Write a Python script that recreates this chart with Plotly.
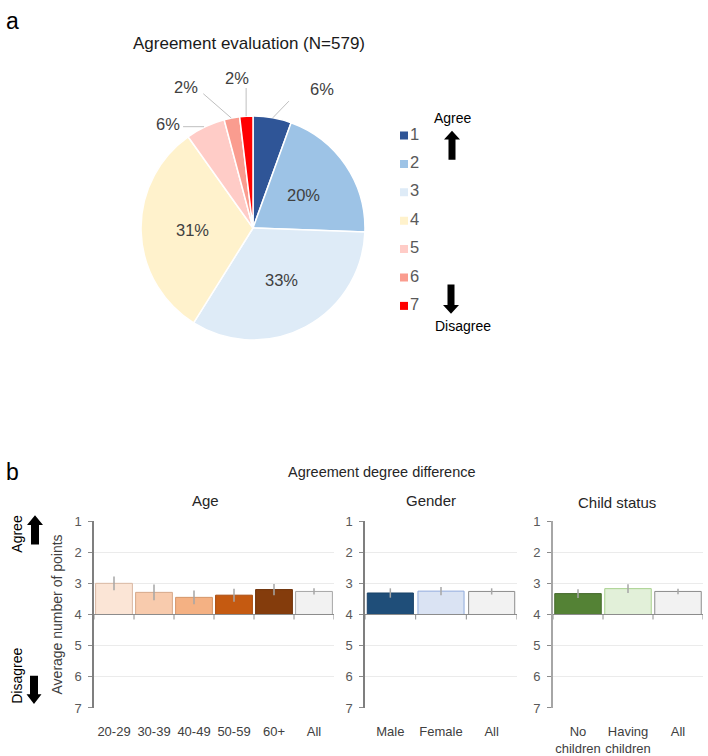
import math
import plotly.graph_objects as go

# ------------------------------------------------------------------ data
pie_labels = ['1', '2', '3', '4', '5', '6', '7']
pie_counts = [32, 116, 193, 181, 33, 13, 11]          # N = 579
pie_title = 'Agreement evaluation (N=579)'

age_groups = ['20-29', '30-39', '40-49', '50-59', '60+', 'All']
age_mean = [3.00, 3.29, 3.45, 3.38, 3.20, 3.26]
age_err = [0.22, 0.25, 0.22, 0.21, 0.18, 0.10]

gender_groups = ['Male', 'Female', 'All']
gender_mean = [3.31, 3.25, 3.26]
gender_err = [0.15, 0.13, 0.10]

child_groups = ['No<br>children', 'Having<br>children', 'All']
child_mean = [3.33, 3.17, 3.26]
child_err = [0.14, 0.14, 0.09]

y_ticks = [1, 2, 3, 4, 5, 6, 7]
bar_base = 4

# ------------------------------------------------------------------ styles
W, H = 708, 756
FONT = 'Liberation Sans, Arial, sans-serif'

pie_colors = ['#2F5597', '#9DC3E6', '#DEEBF7', '#FFF2CC', '#FFCCC7', '#FA9C8F', '#FF0000']
age_colors = ['#FBE5D6', '#F8CBAD', '#F4B183', '#C55A11', '#843C0C', '#F2F2F2']
age_lines = ['#D9B8A3', '#D6A98B', '#D4966A', '#A84B0E', '#6E320A', '#A6A6A6']
gender_colors = ['#1F4E79', '#DAE3F3', '#F2F2F2']
gender_lines = ['#1A4268', '#8FAADC', '#8C8C8C']
child_colors = ['#548235', '#E2F0D9', '#F2F2F2']
child_lines = ['#44692B', '#A9D18E', '#8C8C8C']


def px(x):
    return x / W


def py(y):
    return 1 - y / H


fig = go.Figure()

# ------------------------------------------------------------------ pie
PCX, PCY, PR = 253, 227, 115
fig.add_trace(go.Pie(
    labels=pie_labels, values=pie_counts, sort=False, direction='clockwise',
    rotation=0, textinfo='none', hoverinfo='skip', showlegend=False,
    marker=dict(colors=pie_colors, line=dict(color='white', width=1.5)),
    domain=dict(x=[px(PCX - PR), px(PCX + PR)], y=[py(PCY + PR), py(PCY - PR)]),
))

annotations = []
shapes = []


def ann(text, x, y, size, color='#1A1A1A', angle=0, xanchor='center'):
    annotations.append(dict(text=text, x=px(x), y=py(y), xref='paper', yref='paper',
                            showarrow=False, textangle=angle, xanchor=xanchor,
                            yanchor='middle', font=dict(size=size, color=color, family=FONT)))


# pie labels computed from data
outside = {0: ((49, -29), (16, -17)), 4: ((-36, -3), (-21, 0)),
           5: ((-45, -32), (-28, -25)), 6: ((-9, -39), (0, -29))}
total = sum(pie_counts)
cum = 0
for i, v in enumerate(pie_counts):
    a0 = cum / total * 360
    cum += v
    a1 = cum / total * 360
    mid = math.radians((a0 + a1) / 2)
    pct = f'{round(v / total * 100)}%'
    if i in outside:
        ex, ey = PCX + PR * math.sin(mid), PCY - PR * math.cos(mid)
        (lx, ly), (kx, ky) = outside[i]
        shapes.append(dict(type='line', xref='paper', yref='paper',
                           x0=px(ex), y0=py(ey), x1=px(ex + kx), y1=py(ey + ky),
                           line=dict(color='#BFBFBF', width=1)))
        ann(pct, ex + lx, ey + ly, 16.5, '#404040')
    else:
        r = 0.53 * PR
        ann(pct, PCX + r * math.sin(mid), PCY - r * math.cos(mid), 16.5, '#404040')

# legend built as a small scatter on hidden axes
fig.add_trace(go.Scatter(
    x=[0] * len(pie_labels), y=pie_labels, mode='markers+text', text=pie_labels,
    textposition='middle right', hoverinfo='skip', showlegend=False,
    marker=dict(symbol='square', size=8, color=pie_colors),
    textfont=dict(size=16.5, color='#595959', family=FONT),
    xaxis='x4', yaxis='y4'))

# ------------------------------------------------------------------ bars
panels = [
    ('x', 'y', age_groups, age_mean, age_err, age_colors, age_lines, 0.92),
    ('x2', 'y2', gender_groups, gender_mean, gender_err, gender_colors, gender_lines, 0.91),
    ('x3', 'y3', child_groups, child_mean, child_err, child_colors, child_lines, 0.93),
]
for xa, ya, cats, means, errs, cols, lines, wdt in panels:
    fig.add_trace(go.Bar(
        x=cats, y=[m - bar_base for m in means], base=bar_base, width=wdt,
        marker=dict(color=cols, line=dict(color=lines, width=1)),
        error_y=dict(type='data', array=errs, color='#A6A6A6', thickness=1.5, width=0),
        hoverinfo='skip', showlegend=False, xaxis=xa, yaxis=ya))
    # category axis line drawn through the bar base, with boundary ticks
    shapes.append(dict(type='line', xref=f'{xa} domain', yref=ya, x0=0, x1=1,
                       y0=bar_base, y1=bar_base, line=dict(color='#8C8C8C', width=1.2)))
    for b in range(len(cats) + 1):
        shapes.append(dict(type='line', xref=xa, yref=ya, x0=b - 0.5, x1=b - 0.5,
                           ysizemode='pixel', yanchor=bar_base, y0=0, y1=-5,
                           line=dict(color='#8C8C8C', width=1)))

ydom = [py(720), py(528)]


def yax(anchor, linecolor='#7F7F7F', lw=1.5):
    return dict(domain=ydom, anchor=anchor, range=[7, 1], tickvals=y_ticks,
                showgrid=True, gridcolor='#EBEBEB', gridwidth=1, zeroline=False,
                showline=True, linecolor=linecolor, linewidth=lw, ticks='outside',
                ticklen=4, tickcolor='#8C8C8C', ticklabelstandoff=4,
                tickfont=dict(size=13, color='#595959', family=FONT), fixedrange=True)


def xax(anchor, x0, x1, n):
    return dict(domain=[px(x0), px(x1)], anchor=anchor, type='category',
                range=[-0.5, n - 0.5], showgrid=False, showline=False, ticks='',
                ticklabelstandoff=14,
                zeroline=False, tickfont=dict(size=13, color='#404040', family=FONT),
                fixedrange=True)


# ------------------------------------------------------------------ arrows
def arrow(cx, tip, tail, shaft=7, head=16, headlen=10):
    d = 1 if tail > tip else -1
    neck = tip + d * headlen
    pts = [(cx, tip), (cx + head / 2, neck), (cx + shaft / 2, neck), (cx + shaft / 2, tail),
           (cx - shaft / 2, tail), (cx - shaft / 2, neck), (cx - head / 2, neck)]
    path = 'M ' + ' L '.join(f'{px(a):.5f},{py(b):.5f}' for a, b in pts) + ' Z'
    shapes.append(dict(type='path', xref='paper', yref='paper', path=path,
                       fillcolor='black', line=dict(width=0)))


arrow(452, 127, 157, shaft=7, head=16, headlen=9)
arrow(451, 315, 285, shaft=7, head=16, headlen=9)
arrow(35, 522, 552, shaft=8, head=16, headlen=10)
arrow(34, 716, 687, shaft=8, head=15, headlen=10)

# ------------------------------------------------------------------ texts
ann('a', 12, 14, 23, 'black')
ann('b', 12, 478, 23, 'black')
ann(pie_title, 249, 38, 17, '#1A1A1A')
ann('Agree', 453, 114, 14, 'black')
ann('Disagree', 463, 328, 14, 'black')
ann('Agreement degree difference', 382, 478, 14.5, '#262626')
ann('Age', 205, 507, 15, '#262626')
ann('Gender', 431, 507, 15, '#262626')
ann('Child status', 617, 509, 15, '#262626')
ann('Average number of points', 57, 624, 14, '#404040', angle=-90)
ann('Agree', 17, 541, 14, 'black', angle=-90)
ann('Disagree', 17, 687, 14, 'black', angle=-90)

fig.update_layout(
    width=W, height=H, autosize=False, margin=dict(l=0, r=0, t=0, b=0),
    paper_bgcolor='white', plot_bgcolor='white', showlegend=False,
    font=dict(family=FONT),
    xaxis=xax('y', 94, 334, len(age_groups)),
    yaxis=yax('x'),
    xaxis2=xax('y2', 365, 517, len(gender_groups)),
    yaxis2=yax('x2'),
    xaxis3=xax('y3', 553, 703, len(child_groups)),
    yaxis3=yax('x3', linecolor='#A6A6A6', lw=2),
    xaxis4=dict(domain=[px(398), px(460)], anchor='y4', range=[-6, 56], visible=False,
                fixedrange=True),
    yaxis4=dict(domain=[py(321.6), py(117.4)], anchor='x4', type='category',
                categoryorder='array', categoryarray=pie_labels, range=[6.5, -0.5],
                visible=False, fixedrange=True),
    annotations=annotations, shapes=shapes,
)

fig.write_html('out.html', config={'displayModeBar': False})
